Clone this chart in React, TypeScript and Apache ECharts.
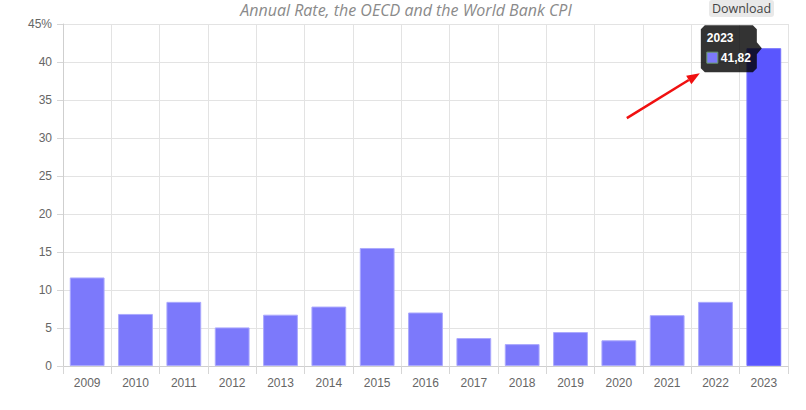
import React, { useEffect, useRef } from "react";
import * as echarts from "echarts";

const years = ["2009", "2010", "2011", "2012", "2013", "2014", "2015", "2016", "2017", "2018", "2019", "2020", "2021", "2022", "2023"];
const rates = [11.65, 6.85, 8.44, 5.08, 6.75, 7.82, 15.53, 7.04, 3.68, 2.88, 4.47, 3.38, 6.69, 8.44, 41.82];
const yTicks = { min: 0, max: 45, interval: 5 };
const titleText = "Annual Rate, the OECD and the World Bank CPI";
const buttonText = "Download";
const highlightIndex = 14;

export default function App() {
  const ref = useRef<HTMLDivElement>(null);
  useEffect(() => {
    document.body.style.margin = "0";
    if (!ref.current) return;
    const chart = echarts.init(ref.current, undefined, { renderer: "svg" });
    const font = "'Liberation Sans', Arial, sans-serif";
    chart.setOption({
      animation: false,
      grid: { left: 63, right: 18, top: 24, bottom: 44 },
      xAxis: {
        type: "category",
        data: years,
        boundaryGap: true,
        axisLine: { show: true, lineStyle: { color: "#cfcfcf", width: 1 } },
        axisTick: { show: true, length: 8, lineStyle: { color: "#d6d6d6" } },
        splitLine: { show: true, lineStyle: { color: "#e3e3e3" } },
        axisLabel: { color: "#666", fontSize: 12, fontFamily: font, margin: 11 },
      },
      yAxis: {
        type: "value",
        min: yTicks.min,
        max: yTicks.max,
        interval: yTicks.interval,
        axisLine: { show: true, lineStyle: { color: "#cfcfcf" } },
        axisTick: { show: true, length: 6, lineStyle: { color: "#d6d6d6" } },
        splitLine: { show: true, lineStyle: { color: "#e3e3e3" } },
        axisLabel: {
          color: "#666",
          fontSize: 12,
          fontFamily: font,
          margin: 11,
          formatter: (v: number) => (v === yTicks.max ? v + "%" : String(v)),
        },
      },
      series: [
        {
          type: "bar",
          barWidth: "72%",
          data: rates.map((v, i) =>
            i === highlightIndex
              ? { value: v, itemStyle: { color: "#5a56fe", borderColor: "#7673fd", borderWidth: 1 } }
              : v
          ),
          itemStyle: { color: "#7c79fb", borderColor: "#aba9fd", borderWidth: 1 },
        },
      ],
    });

    const [px, py] = chart.convertToPixel({ seriesIndex: 0 }, [years[highlightIndex], rates[highlightIndex]]) as number[];
    const tipX = px - 2;
    const boxR = tipX - 5;
    const boxW = 56;
    const boxL = boxR - boxW;
    const boxT = py - 23;
    const boxH = 47;
    const ax1 = boxL - 1;
    const ay1 = boxT + boxH + 1;
    const ax0 = ax1 - 73;
    const ay0 = ay1 + 45;
    const ang = Math.atan2(ay1 - ay0, ax1 - ax0);
    const hl = 13;
    const hw = 5;
    const bx = ax1 - hl * Math.cos(ang);
    const by = ay1 - hl * Math.sin(ang);
    const nx = -Math.sin(ang);
    const ny = Math.cos(ang);

    chart.setOption({
      graphic: [
        {
          type: "text",
          z: 100,
          x: 406,
          y: 2,
          style: {
            text: titleText,
            fill: "#8a8a8a",
            font: "italic 16px 'Open Sans', sans-serif",
            textAlign: "center",
            textVerticalAlign: "top",
          },
        },
        {
          type: "rect",
          z: 100,
          shape: { x: 709, y: 0, width: 65, height: 17, r: 3 },
          style: { fill: "#e9e9e9" },
        },
        {
          type: "text",
          z: 101,
          x: 741.5,
          y: 8.5,
          style: {
            text: buttonText,
            fill: "#444",
            font: "12.5px 'Open Sans', sans-serif",
            textAlign: "center",
            textVerticalAlign: "middle",
          },
        },
        {
          type: "polygon",
          z: 100,
          shape: {
            points: [
              [boxL + 4, boxT],
              [boxR - 4, boxT],
              [boxR, boxT + 4],
              [boxR, py - 6],
              [tipX, py],
              [boxR, py + 6],
              [boxR, boxT + boxH - 4],
              [boxR - 4, boxT + boxH],
              [boxL + 4, boxT + boxH],
              [boxL, boxT + boxH - 4],
              [boxL, boxT + 4],
            ],
          },
          style: { fill: "rgba(0,0,0,0.8)" },
        },
        {
          type: "text",
          z: 101,
          x: boxL + 6,
          y: boxT + 13,
          style: {
            text: years[highlightIndex],
            fill: "#fff",
            font: "bold 12px 'Liberation Sans', Arial, sans-serif",
            textVerticalAlign: "middle",
          },
        },
        {
          type: "rect",
          z: 101,
          shape: { x: boxL + 6, y: boxT + 27, width: 11, height: 11 },
          style: { fill: "#7c79fb", stroke: "#6a9c6a", lineWidth: 1 },
        },
        {
          type: "text",
          z: 101,
          x: boxL + 20,
          y: boxT + 33,
          style: {
            text: rates[highlightIndex].toFixed(2).replace(".", ","),
            fill: "#fff",
            font: "bold 12px 'Liberation Sans', Arial, sans-serif",
            textVerticalAlign: "middle",
          },
        },
        {
          type: "line",
          z: 100,
          shape: { x1: ax0, y1: ay0, x2: bx, y2: by },
          style: { stroke: "#f01010", lineWidth: 2.5 },
        },
        {
          type: "polygon",
          z: 100,
          shape: {
            points: [
              [ax1, ay1],
              [bx + nx * hw, by + ny * hw],
              [bx - nx * hw, by - ny * hw],
            ],
          },
          style: { fill: "#f01010" },
        },
      ],
    });
    return () => chart.dispose();
  }, []);
  return <div ref={ref} style={{ width: 806, height: 410 }} />;
}
